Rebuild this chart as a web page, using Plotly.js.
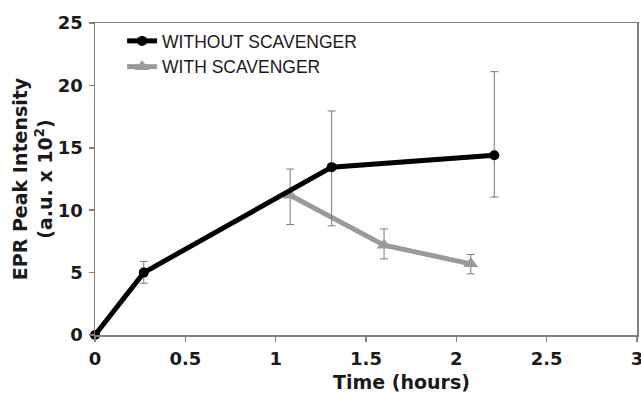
<!DOCTYPE html>
<html>
<head>
<meta charset="utf-8">
<script src="https://cdn.plot.ly/plotly-3.0.1.min.js"></script>
<style>html,body{margin:0;padding:0;background:#fff;}#chart{width:641px;height:393px;}</style>
</head>
<body>
<div id="chart"></div>
<script>
// Data
var timeWithout = [0, 0.27, 1.31, 2.21];
var intensityWithout = [0, 5.0, 13.45, 14.4];
var errPlusWithout = [0, 0.9, 4.5, 6.7];
var errMinusWithout = [0, 0.85, 4.7, 3.35];

var timeWith = [1.08, 1.6, 2.08];
var intensityWith = [11.2, 7.2, 5.7];
var errPlusWith = [2.1, 1.3, 0.75];
var errMinusWith = [2.35, 1.1, 0.8];

var seriesNames = ["WITHOUT SCAVENGER", "WITH SCAVENGER"];
var xTitle = "Time (hours)";
var yTitle = "EPR Peak Intensity<br>(a.u. x 10<sup>2</sup>)";

var traceWith = {
  x: timeWith, y: intensityWith, name: seriesNames[1],
  type: "scatter", mode: "lines+markers", cliponaxis: false,
  line: {color: "#9a9a9a", width: 5},
  marker: {symbol: "triangle-up", size: 13, color: "#9a9a9a"},
  error_y: {type: "data", symmetric: false, array: errPlusWith, arrayminus: errMinusWith,
            color: "#7a7a7a", thickness: 1, width: 4}
};
var traceWithout = {
  x: timeWithout, y: intensityWithout, name: seriesNames[0],
  type: "scatter", mode: "lines+markers", cliponaxis: false,
  line: {color: "#000000", width: 5},
  marker: {symbol: "circle", size: 10, color: "#000000"},
  error_y: {type: "data", symmetric: false, array: errPlusWithout, arrayminus: errMinusWithout,
            color: "#7a7a7a", thickness: 1, width: 4}
};

var tickFont = {family: "DejaVu Sans", size: 18, color: "#1a1a1a", weight: "bold"};

var layout = {
  width: 641, height: 393,
  margin: {l: 95, r: 4, t: 23, b: 58},
  paper_bgcolor: "#ffffff", plot_bgcolor: "#ffffff",
  showlegend: true,
  legend: {x: 0.05, y: 1.0, xanchor: "left", yanchor: "top", traceorder: "reversed",
           bgcolor: "rgba(0,0,0,0)", font: {family: "Liberation Sans, Arial", size: 17.5, color: "#1a1a1a"},
           itemwidth: 30},
  xaxis: {range: [0, 3], dtick: 0.5, tick0: 0, showgrid: false, zeroline: false,
          showline: true, linecolor: "#808080", linewidth: 1.5, mirror: true,
          ticks: "outside", ticklen: 5, tickcolor: "#808080", tickwidth: 1.5,
          ticklabelstandoff: 2, ticklabeloverflow: "allow", tickfont: tickFont},
  yaxis: {range: [0, 25], dtick: 5, tick0: 0, showgrid: false, zeroline: false,
          showline: true, linecolor: "#808080", linewidth: 1.5, mirror: true,
          ticks: "outside", ticklen: 5, tickcolor: "#808080", tickwidth: 1.5,
          ticklabelstandoff: 2, ticklabeloverflow: "allow", tickfont: tickFont,
          title: {text: yTitle, standoff: 0,
                  font: {family: "DejaVu Sans", size: 19, color: "#1a1a1a", weight: "bold"}}},
  annotations: [{
    text: xTitle, xref: "paper", yref: "paper", x: 0.565, y: 0, yshift: -47,
    xanchor: "center", yanchor: "middle", showarrow: false,
    font: {family: "DejaVu Sans", size: 19, color: "#1a1a1a", weight: "bold"}
  }]
};

Plotly.newPlot("chart", [traceWith, traceWithout], layout, {displayModeBar: false, staticPlot: true});
</script>
</body>
</html>
